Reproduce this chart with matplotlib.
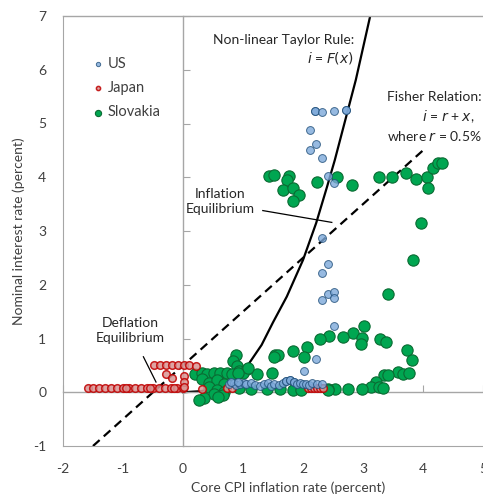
import numpy as np
import matplotlib
matplotlib.use("Agg")
import matplotlib.pyplot as plt

plt.rcParams['font.family'] = ['Lato', 'DejaVu Sans']
plt.rcParams['axes.unicode_minus'] = False

# US: core CPI inflation vs policy rate
us_x = [2.20, 2.20, 2.32, 2.52, 2.71, 2.71, 2.12, 2.22, 2.12, 2.31, 2.41, 2.52,
        2.31, 2.41, 2.31, 2.41, 2.52, 2.52, 2.31, 2.51, 2.21, 2.01,
        0.76, 0.85, 0.89, 0.95, 1.01, 1.05, 1.14, 1.20, 1.28, 1.35, 1.41, 1.47,
        1.52, 1.60, 1.66, 1.72, 1.72, 1.78, 1.78, 1.85, 1.85, 1.90, 1.95, 2.00,
        2.05, 2.10, 2.15, 2.23, 2.31, 0.80, 0.92]
us_y = [5.23, 5.23, 5.22, 5.24, 5.25, 5.25, 4.88, 4.61, 4.51, 4.35, 4.02, 3.89,
        2.87, 2.38, 2.21, 1.82, 1.86, 1.76, 1.71, 1.24, 0.61, 0.40,
        0.16, 0.18, 0.13, 0.16, 0.18, 0.15, 0.17, 0.14, 0.12, 0.16, 0.17, 0.12,
        0.15, 0.14, 0.17, 0.21, 0.21, 0.22, 0.22, 0.20, 0.20, 0.16, 0.17, 0.15,
        0.16, 0.13, 0.17, 0.16, 0.15, 0.20, 0.20]

# Japan
jp_x = [-1.59, -1.50, -1.40, -1.30, -1.20, -1.10, -1.00, -0.90, -0.80, -0.70,
        -0.60, -0.50, -0.40, -0.30, -0.20, -0.10, 0.00, -0.95, -0.55, -0.15,
        -0.48, -0.38, -0.28, -0.18, -0.08, 0.02, 0.10, 0.21,
        -0.28, -0.19, 0.02, 0.02, 0.02, 0.31, 0.74, 0.81,
        2.08, 2.13, 2.18, 2.23, 2.28, 2.33]
jp_y = [0.08, 0.08, 0.08, 0.08, 0.08, 0.08, 0.08, 0.08, 0.08, 0.08,
        0.08, 0.08, 0.08, 0.08, 0.08, 0.08, 0.08, 0.07, 0.07, 0.07,
        0.50, 0.50, 0.50, 0.50, 0.50, 0.50, 0.50, 0.49,
        0.34, 0.26, 0.30, 0.20, 0.10, 0.06, 0.08, 0.07,
        0.07, 0.07, 0.07, 0.07, 0.07, 0.07]

# Slovakia
sk_x = [1.44, 1.52, 1.77, 1.74, 1.66, 1.83, 1.93, 1.83, 2.23, 2.57, 2.81,
        3.26, 3.49, 3.72, 3.88, 4.06, 4.09, 4.16, 4.25, 4.32, 3.96, 3.83, 3.42,
        3.02, 2.84, 2.98, 2.96, 2.66, 2.43, 2.29, 2.07, 2.01, 3.29, 3.38, 3.74,
        3.82, 3.59, 3.67, 3.77, 3.35, 3.41, 3.21, 3.14, 3.27, 3.33, 2.98, 2.75,
        2.54, 2.42, 1.97, 1.24, 1.48, 1.84, 1.54, 1.58, 1.51,
        0.89, 0.83, 0.90, 0.94, 1.06, 1.00, 1.09, 0.20, 0.31, 0.40, 0.52, 0.62,
        0.74, 0.81, 0.91, 0.31, 0.44, 0.57, 0.69, 0.44, 0.56, 0.69, 0.51, 0.35,
        0.27, 0.66, 0.59, 0.93, 1.13, 1.40, 1.62, 1.83, 1.96, 2.41]
sk_y = [4.03, 4.05, 4.02, 3.94, 3.77, 3.80, 3.67, 3.55, 3.92, 4.01, 3.86,
        4.01, 4.01, 4.07, 3.97, 4.00, 3.80, 4.17, 4.27, 4.26, 3.14, 2.46, 1.82,
        1.24, 1.11, 1.01, 0.89, 1.02, 1.05, 0.99, 0.84, 0.65, 0.99, 0.94, 0.78,
        0.60, 0.37, 0.34, 0.35, 0.32, 0.32, 0.19, 0.09, 0.10, 0.07, 0.06, 0.06,
        0.06, 0.06, 0.06, 0.34, 0.35, 0.76, 0.70, 0.69, 0.65,
        0.69, 0.58, 0.48, 0.40, 0.44, 0.36, 0.45, 0.34, 0.35, 0.34, 0.35, 0.35,
        0.35, 0.34, 0.35, 0.24, 0.17, 0.22, 0.16, 0.10, 0.04, 0.01, -0.04, -0.11,
        -0.14, -0.06, -0.09, 0.07, 0.06, 0.06, 0.06, 0.05, 0.05, 0.05]

# Non-linear Taylor rule curve
taylor_x = [0.0, 0.30, 0.50, 0.70, 0.84, 1.06, 1.31, 1.50, 1.73, 2.00, 2.22, 2.40, 2.53, 2.88, 3.12]
taylor_y = [0.0, 0.02, 0.07, 0.16, 0.26, 0.47, 0.88, 1.30, 1.78, 2.46, 3.15, 3.82, 4.32, 5.81, 7.0]

# Fisher relation, r = 0.5
fisher_x = [-1.5, 4.0]
fisher_y = [-1.0, 4.5]

grey = '#A6A6A6'
txt = '#404040'
fs = 10

fig = plt.figure(figsize=(4.83, 4.99), dpi=100)
ax = fig.add_axes([63 / 483, 53 / 499, 450 / 483, 430 / 499])
ax.set_xlim(-2, 5.5)
ax.set_ylim(-1, 7)

# zero lines carry the tick marks
ax.spines['left'].set_position(('data', 0))
ax.spines['bottom'].set_position(('data', 0))
for s in ['left', 'bottom', 'top']:
    ax.spines[s].set_color(grey)
    ax.spines[s].set_linewidth(1)
ax.spines['right'].set_visible(False)
ax.tick_params(direction='in', length=5, color=grey, labelleft=False, labelbottom=False)
ax.set_xticks(range(-2, 6))
ax.set_yticks(range(-1, 8))

# frame with the tick labels
secx = ax.secondary_xaxis('bottom')
secx.set_xticks(range(-2, 6))
secx.tick_params(length=0, pad=12, labelsize=fs, labelcolor=txt)
secx.spines['bottom'].set_color(grey)
secx.set_xlabel('Core CPI inflation rate (percent)', fontsize=fs, color=txt, labelpad=5)
secy = ax.secondary_yaxis('left')
secy.set_yticks(range(-1, 8))
secy.tick_params(length=0, pad=12, labelsize=fs, labelcolor=txt)
secy.spines['left'].set_color(grey)
secy.set_ylabel('Nominal interest rate (percent)', fontsize=fs, color=txt, labelpad=6)

ax.plot(fisher_x, fisher_y, color='black', lw=1.6, ls=(0, (4, 2.5)), zorder=2)
ax.plot(taylor_x, taylor_y, color='black', lw=1.6, zorder=2)

ax.scatter(sk_x, sk_y, s=66, color='#00A651', edgecolor='#0B6B33', linewidth=0.8, zorder=3,
           label='Slovakia')
ax.scatter(jp_x, jp_y, s=30, color='#D99594', edgecolor='#C00000', linewidth=1.1, alpha=0.85,
           zorder=4, label='Japan')
ax.scatter(us_x, us_y, s=32, color='#7DA9DA', edgecolor='#1F4E79', linewidth=0.7, alpha=0.8,
           zorder=5, label='US')

h, l = ax.get_legend_handles_labels()
order = [2, 1, 0]
leg = ax.legend([h[i] for i in order], [l[i] for i in order], loc='upper left',
                bbox_to_anchor=(0.035, 0.935), frameon=False, fontsize=fs + 0.5,
                handlelength=0.8, handletextpad=0.3, labelspacing=0.7, markerscale=0.55)
for t in leg.get_texts():
    t.set_color(txt)

ax.text(2.85, 6.55, 'Non-linear Taylor Rule:', ha='right', va='center', fontsize=fs, color='#262626')
ax.text(2.85, 6.22, '$i$ = $F(x)$', ha='right', va='center', fontsize=fs, color='#262626')
ax.text(4.97, 5.5, 'Fisher Relation:', ha='right', va='center', fontsize=fs, color='#262626')
ax.text(4.86, 5.13, '$i$ = $r$ + $x$,', ha='right', va='center', fontsize=fs, color='#262626')
ax.text(4.97, 4.76, 'where $r$ = 0.5%', ha='right', va='center', fontsize=fs, color='#262626')
ax.text(0.62, 3.55, 'Inflation\nEquilibrium', ha='center', va='center', fontsize=fs,
        color='#262626', linespacing=1.35)
ax.plot([1.33, 2.48], [3.38, 3.16], color='black', lw=0.9)
ax.text(-0.88, 1.15, 'Deflation\nEquilibrium', ha='center', va='center', fontsize=fs,
        color='#262626', linespacing=1.35)
ax.plot([-0.66, -0.45], [0.66, 0.19], color='black', lw=0.9)

fig.savefig('out.png', dpi=100)
